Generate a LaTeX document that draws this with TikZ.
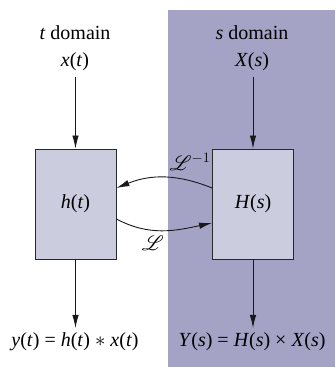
\documentclass[tikz,border=0pt]{standalone}
\usepackage{fontspec}
\setmainfont{Liberation Serif}
\usepackage{mathrsfs}
\usetikzlibrary{arrows.meta}
\definecolor{shadebg}{RGB}{165,163,197}
\definecolor{boxfill}{RGB}{204,204,223}
\definecolor{edgecol}{RGB}{40,40,40}
\tikzset{
  lbl/.style={font=\fontsize{20}{24}\selectfont, inner sep=0pt},
  sysbox/.style={draw=edgecol, line width=0.9pt, fill=boxfill, minimum width=81pt, minimum height=110pt, inner sep=0pt, font=\fontsize{20}{24}\selectfont},
  conn/.style={draw=black!90, line width=0.9pt, -{Latex[length=13pt,width=6.5pt]}},
}
\begin{document}
\begin{tikzpicture}[x=1pt,y=1pt]
\useasboundingbox (0,0) rectangle (335,367);
\fill[white] (0,0) rectangle (335,367);
\fill[shadebg] (168,0) rectangle (335,357);
% headings
\node[lbl] (td) at (75,334) {\textit{t} domain};
\node[lbl] (sd) at (252,334) {\textit{s} domain};
\node[lbl] (xt) at (75,305) {\textit{x}(\textit{t})};
\node[lbl] (Xs) at (252,305) {\textit{X}(\textit{s})};
% boxes
\node[sysbox] (lb) at (75.5,163) {\textit{h}(\textit{t})};
\node[sysbox] (rb) at (253,163) {\textit{H}(\textit{s})};
% outputs
\node[lbl] (yt) at (75,25) {\textit{y}(\textit{t}) = \textit{h}(\textit{t}) $*$ \textit{x}(\textit{t})};
\node[lbl] (Ys) at (252,25) {\textit{Y}(\textit{s}) = \textit{H}(\textit{s}) × \textit{X}(\textit{s})};
% vertical arrows
\coordinate (xa) at (75.5,290);
\coordinate (Xa) at (253,290);
\coordinate (ya) at (75.5,39);
\coordinate (Ya) at (253,39);
\draw[conn] (xa) -- (lb.north);
\draw[conn] (Xa) -- (rb.north);
\draw[conn] (lb.south) -- (ya);
\draw[conn] (rb.south) -- (Ya);
% transform arrows
\draw[conn] ([yshift=16pt]rb.west) to[out=158,in=22] ([yshift=16pt]lb.east);
\draw[conn] ([yshift=-15pt]lb.east) to[out=-28,in=192] ([yshift=-19pt]rb.west);
\node[lbl] (linv) at (190,205) {$\mathscr{L}^{-1}$};
\node[lbl] (lfw) at (153,124) {$\mathscr{L}$};
\end{tikzpicture}
\end{document}
